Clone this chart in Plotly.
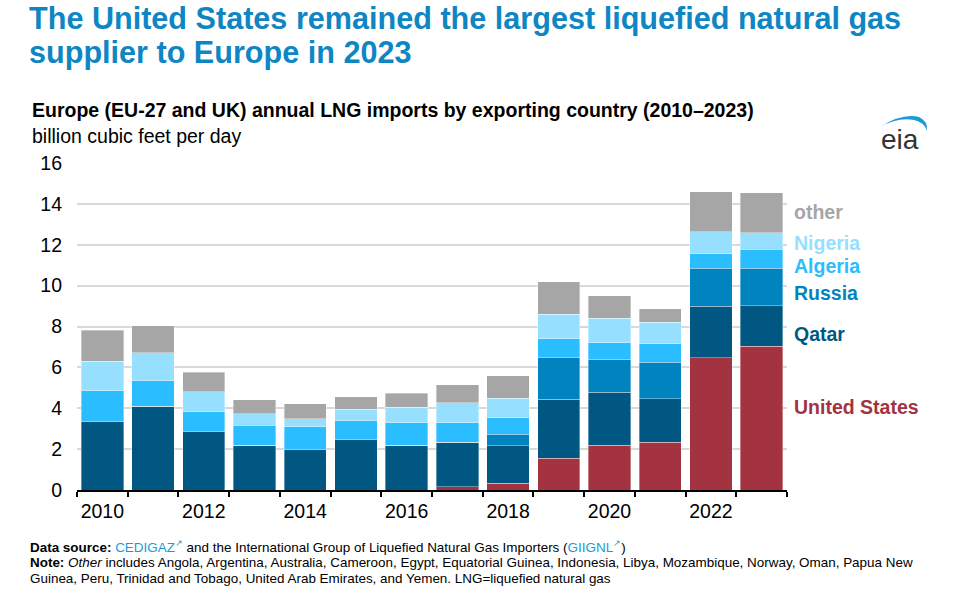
import plotly.graph_objects as go

years = [str(y) for y in range(2010, 2024)]
united_states = [0, 0, 0, 0, 0, 0, 0, 0.16, 0.33, 1.55, 2.20, 2.33, 6.48, 7.03]
qatar = [3.34, 4.10, 2.86, 2.20, 1.97, 2.46, 2.20, 2.17, 1.84, 2.89, 2.58, 2.14, 2.51, 1.99]
russia = [0, 0, 0, 0, 0, 0, 0, 0, 0.55, 2.02, 1.63, 1.78, 1.86, 1.83]
algeria = [1.52, 1.24, 0.97, 0.98, 1.13, 0.93, 1.10, 0.97, 0.82, 0.93, 0.79, 0.91, 0.72, 0.93]
nigeria = [1.44, 1.38, 0.98, 0.54, 0.39, 0.57, 0.76, 0.97, 0.96, 1.22, 1.20, 1.06, 1.06, 0.80]
other = [1.52, 1.32, 0.95, 0.69, 0.72, 0.61, 0.67, 0.87, 1.10, 1.57, 1.10, 0.64, 1.96, 1.96]
tick_labels = [y if int(y) % 2 == 0 else "" for y in years]

series = [
    ("United States", united_states, "#a33340"),
    ("Qatar", qatar, "#005882"),
    ("Russia", russia, "#0083bf"),
    ("Algeria", algeria, "#2abdff"),
    ("Nigeria", nigeria, "#96dfff"),
    ("other", other, "#a6a6a6"),
]

fig = go.Figure()
for name, vals, col in series:
    fig.add_trace(go.Bar(
        x=years, y=vals, name=name,
        marker=dict(color=col, line=dict(color="rgba(255,255,255,0.45)", width=0.8)),
        hovertemplate="%{x}: %{y:.2f}<extra>" + name + "</extra>",
    ))

# page-pixel geometry (body margin removed by post_script)
PAGE_W, PAGE_H = 956, 603
PL, PR, PT, PB = 77, 787, 163, 490
W, H = PAGE_W, PAGE_H

def px(x):
    return (x - PL) / (PR - PL)

def py(y):
    return (PB - y) / (PB - PT)

FS = 19.5
fig.update_layout(
    width=W, height=H,
    barmode="stack", bargap=0.165,
    showlegend=False,
    plot_bgcolor="white", paper_bgcolor="white",
    margin=dict(l=PL, r=PAGE_W - PR, t=PT, b=PAGE_H - PB, autoexpand=False),
    font=dict(family="Liberation Sans, Arial, sans-serif", size=FS, color="black"),
    xaxis=dict(
        type="category", tickmode="array", tickvals=years, ticktext=tick_labels,
        tickson="boundaries", ticks="outside", ticklen=5, tickwidth=1.5, tickcolor="black",
        tickangle=0, ticklabelstandoff=3, showline=True, linecolor="black", linewidth=1.5,
        showgrid=False, tickfont=dict(size=FS), fixedrange=True,
    ),
    yaxis=dict(
        range=[0, 16], dtick=2, showgrid=True, gridcolor="#d9d9d9", gridwidth=1.5,
        zeroline=False, showline=False, ticks="", tickfont=dict(size=FS),
        ticklabelstandoff=14, fixedrange=True,
    ),
)

ann = []
title_font = dict(family="Liberation Sans, Arial, sans-serif", size=30.6, color="#0f86c4", weight="bold")
ann.append(dict(
    text="The United States remained the largest liquefied natural gas",
    xref="paper", yref="paper", x=px(27), y=py(-1), xanchor="left", yanchor="top",
    showarrow=False, align="left", font=title_font,
))
ann.append(dict(
    text="supplier to Europe in 2023",
    xref="paper", yref="paper", x=px(27), y=py(33), xanchor="left", yanchor="top",
    showarrow=False, align="left", font=title_font,
))
ann.append(dict(
    text="<b>Europe (EU-27 and UK) annual LNG imports by exporting country (2010–2023)</b>",
    xref="paper", yref="paper", x=px(30), y=py(110), xanchor="left", yanchor="middle",
    showarrow=False, align="left", font=dict(size=FS, color="black"),
))
ann.append(dict(
    text="billion cubic feet per day",
    xref="paper", yref="paper", x=px(30), y=py(136), xanchor="left", yanchor="middle",
    showarrow=False, align="left", font=dict(size=FS, color="black"),
))

# Right-side series labels
label_pos = {"other": 13.61, "Nigeria": 12.09, "Algeria": 10.96, "Russia": 9.64, "Qatar": 7.64, "United States": 4.06}
for name, vals, col in series:
    ann.append(dict(
        text="<b>" + name + "</b>", xref="paper", yref="y", x=px(792), y=label_pos[name],
        xanchor="left", yanchor="middle", showarrow=False,
        font=dict(size=FS, color=col),
    ))

# Footer
link = "#1a9bd7"
foot_font = dict(family="Liberation Sans, Arial, sans-serif", size=13.45, color="black")
foot_lines = [
    ("<b>Data source:</b> <span style='color:%s'>CEDIGAZ<sup>↗</sup></span> and the International Group of "
     "Liquefied Natural Gas Importers (<span style='color:%s'>GIIGNL<sup>↗</sup></span>)") % (link, link),
    ("<b>Note:</b> <i>Other</i> includes Angola, Argentina, Australia, Cameroon, Egypt, Equatorial Guinea, "
     "Indonesia, Libya, Mozambique, Norway, Oman, Papua New"),
    "Guinea, Peru, Trinidad and Tobago, United Arab Emirates, and Yemen. LNG=liquefied natural gas",
]
for i, line in enumerate(foot_lines):
    ann.append(dict(
        text=line, xref="paper", yref="paper", x=px(28), y=py(546 + 16 * i),
        xanchor="left", yanchor="middle", showarrow=False, align="left", font=foot_font,
    ))

# eia logo text
ann.append(dict(
    text="eia", xref="paper", yref="paper", x=px(900), y=py(140), xanchor="center", yanchor="middle",
    showarrow=False, font=dict(family="Liberation Sans, Arial, sans-serif", size=28, color="#333333"),
))
fig.update_layout(annotations=ann)

# eia logo arc
pts = [("M", 880, 127), ("Q", 902, 113, 919, 117), ("Q", 928, 121, 927, 131),
       ("Q", 924, 122, 914, 120), ("Q", 898, 117, 880, 127)]
path = ""
for p in pts:
    cmd = p[0]
    coords = p[1:]
    s = " ".join("%.4f,%.4f" % (px(coords[i]), py(coords[i + 1])) for i in range(0, len(coords), 2))
    path += cmd + " " + s + " "
path += "Z"
fig.add_shape(type="path", path=path, xref="paper", yref="paper",
              fillcolor="#1a9bd7", line=dict(width=0), layer="above")

fig.write_html(
    "out.html",
    config={"displayModeBar": False},
    post_script="document.body.style.margin='0';document.documentElement.style.overflow='hidden';",
)
